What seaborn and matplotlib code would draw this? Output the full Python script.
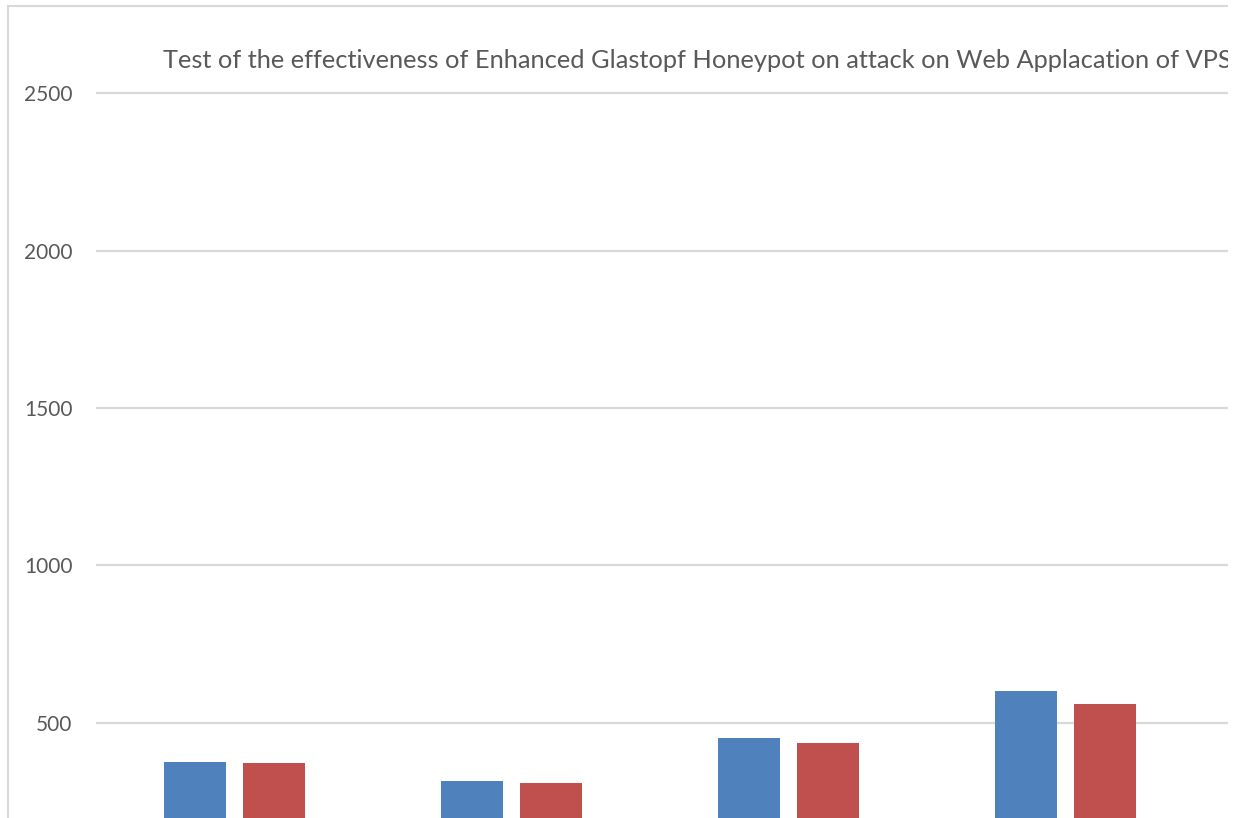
import matplotlib
matplotlib.use("Agg")
import matplotlib.pyplot as plt
import seaborn as sns
import pandas as pd
from matplotlib.lines import Line2D
from matplotlib.patches import Rectangle

# Data
categories = ["Test 1", "Test 2", "Test 3", "Test 4"]
series_names = ["Attacks", "Detected"]
attacks = [376, 315, 450, 600]
detected = [373, 308, 435, 560]
y_ticks = [500, 1000, 1500, 2000, 2500]
title_text = "Test of the effectiveness of Enhanced Glastopf Honeypot on attack on Web Applacation of VPS"

colors = ["#4F81BD", "#C0504D"]
text_color = "#595959"
grid_color = "#D9D9D9"

df = pd.DataFrame({
    "category": categories * 2,
    "series": [series_names[0]] * len(categories) + [series_names[1]] * len(categories),
    "value": attacks + detected,
})

sns.set_theme(style="white")
plt.rcParams["font.family"] = ["Lato", "DejaVu Sans"]

W, H = 1249, 818
fig = plt.figure(figsize=(W / 100, H / 100), dpi=100)
fig.patch.set_facecolor("white")

# plot area in pixel terms
left_px, right_px = 96, 1228
top_px = 80
ax = fig.add_axes([left_px / W, 0, (right_px - left_px) / W, 1 - top_px / H])

sns.barplot(data=df, x="category", y="value", hue="series", palette=colors,
            width=0.57, saturation=1, ax=ax, legend=False, errorbar=None)

# narrow each bar around its own centre to leave a gap inside each group
cat_px = 277.0
bar_w = 62.0 / cat_px
for p in ax.patches:
    cx = p.get_x() + p.get_width() / 2
    p.set_x(cx - bar_w / 2)
    p.set_width(bar_w)
    p.set_edgecolor("none")

units_per_px = 2000 / (722.7 - 93.3)
ax.set_ylim(2500 - (H - 93.3) * units_per_px, 2500 + (93.3 - top_px) * units_per_px)
ax.set_xlim(-0.5, -0.5 + (right_px - left_px) / cat_px)

ax.set_yticks(y_ticks)
ax.set_yticklabels([str(v) for v in y_ticks], color=text_color, fontsize=15)
ax.tick_params(axis="y", length=0, pad=17)
ax.set_xticks([])
ax.set_xlabel("")
ax.set_ylabel("")
ax.yaxis.grid(True, color=grid_color, linewidth=1.6)
ax.set_axisbelow(True)
for s in ax.spines.values():
    s.set_visible(False)
ax.set_facecolor("none")

fig.text(163 / W, 1 - 61 / H, title_text, ha="left", va="center",
         fontsize=18.25, color=text_color)

# chart frame (top and left edges)
fig.add_artist(Line2D([8 / W, 8 / W], [0, 1 - 6 / H], transform=fig.transFigure,
                      color=grid_color, linewidth=1.5))
fig.add_artist(Line2D([8 / W, right_px / W], [1 - 6 / H, 1 - 6 / H], transform=fig.transFigure,
                      color=grid_color, linewidth=1.5))

# blank strip at the right edge
fig.add_artist(Rectangle((right_px / W, 0), 1 - right_px / W, 1, transform=fig.transFigure,
                         facecolor="white", edgecolor="none", zorder=100))

fig.savefig("out.png", dpi=100)
